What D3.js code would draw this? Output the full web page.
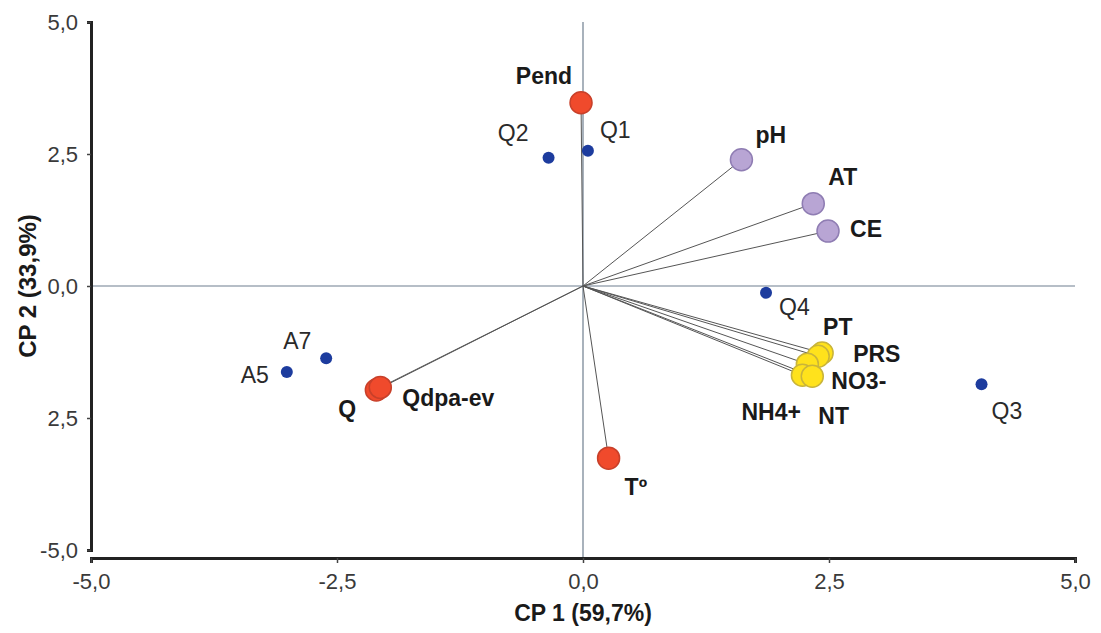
<!DOCTYPE html>
<html>
<head>
<meta charset="utf-8">
<script src="https://cdn.jsdelivr.net/npm/d3@7"></script>
<style>
  body { margin: 0; background: #fff; }
  text { font-family: "Liberation Sans", Arial, sans-serif; }
</style>
</head>
<body>
<div id="chart"></div>
<script>
// Variables (vectors from origin)
var varNames = ['Pend', 'pH', 'AT', 'CE', 'PT', 'PRS', 'NO3-', 'NH4+', 'NT', 'Q', 'Qdpa-ev', 'Tº'];
var varX = [-0.02, 1.61, 2.34, 2.49, 2.43, 2.39, 2.28, 2.23, 2.33, -2.10, -2.06, 0.26];
var varY = [3.47, 2.39, 1.56, 1.04, -1.27, -1.33, -1.48, -1.69, -1.71, -1.97, -1.92, -3.26];
var varGroup = ['red', 'purple', 'purple', 'purple', 'yellow', 'yellow', 'yellow', 'yellow', 'yellow', 'red', 'red', 'red'];

// Sites
var siteNames = ['Q1', 'Q2', 'Q4', 'Q3', 'A7', 'A5'];
var siteX = [0.05, -0.35, 1.86, 4.05, -2.61, -3.01];
var siteY = [2.56, 2.43, -0.13, -1.86, -1.37, -1.63];

var xTicks = [-5, -2.5, 0, 2.5, 5];
var xTickLabels = ['-5,0', '-2,5', '0,0', '2,5', '5,0'];
var yTicks = [5, 2.5, 0, -2.5, -5];
var yTickLabels = ['5,0', '2,5', '0,0', '2,5', '-5,0'];

var xTitle = 'CP 1 (59,7%)';
var yTitle = 'CP 2 (33,9%)';

// label placement (pixel offsets from the mark, anchor)
var varLabelPos = {
    'Pend': [-9, -19, 'end'], 'pH': [14, -17, 'start'], 'AT': [15, -19, 'start'],
    'CE': [22, 6, 'start'], 'PT': [1, -18, 'start'], 'PRS': [35, 6, 'start'],
    'NO3-': [24, 25, 'start'], 'NH4+': [-61, 45, 'start'], 'NT': [6, 48, 'start'],
    'Q': [-38, 27, 'start'], 'Qdpa-ev': [22, 19, 'start'], 'Tº': [16, 37, 'start']
};
var siteLabelPos = {
    'Q1': [12, -13, 'start'], 'Q2': [-20, -17, 'end'], 'Q4': [13, 22, 'start'],
    'Q3': [10, 35, 'start'], 'A7': [-43, -9, 'start'], 'A5': [-18, 11, 'end']
};

var fill = { red: '#f04a2c', purple: '#b8a5d4', yellow: '#ffe21c' };
var stroke = { red: '#c8402a', purple: '#8f7db3', yellow: '#c9b43a' };

var width = 1101, height = 633;
var svg = d3.select('#chart').append('svg')
    .attr('width', width)
    .attr('height', height);

var x = d3.scaleLinear().domain([-5, 5]).range([91, 1075]);
var y = d3.scaleLinear().domain([-5, 5]).range([550, 22]);
var axisY = 558;

// zero lines
svg.append('line')
    .attr('x1', x(-5)).attr('x2', x(5))
    .attr('y1', y(0)).attr('y2', y(0))
    .attr('stroke', '#6f7f8f').attr('stroke-width', 1.2);
svg.append('line')
    .attr('x1', x(0)).attr('x2', x(0))
    .attr('y1', y(5)).attr('y2', axisY)
    .attr('stroke', '#6f7f8f').attr('stroke-width', 1.2);

// axes
var xAxis = svg.append('g')
    .attr('transform', `translate(0, ${axisY})`)
    .call(d3.axisBottom(x).tickValues(xTicks).tickSize(5).tickFormat((d, i) => xTickLabels[i]));
var yAxis = svg.append('g')
    .attr('transform', `translate(${x(-5)}, 0)`)
    .call(d3.axisLeft(y).tickValues(yTicks).tickSize(4).tickFormat((d, i) => yTickLabels[i]));

[xAxis, yAxis].forEach(a => {
    a.select('.domain').attr('stroke', '#222').attr('stroke-width', 3);
    a.selectAll('.tick line').attr('stroke', '#444').attr('stroke-width', 1.5);
    a.selectAll('.tick text')
        .attr('fill', '#3a3a3a')
        .style('font-size', '22px')
        .style('font-family', '"Liberation Sans", Arial, sans-serif');
});
xAxis.selectAll('.tick text').attr('y', 15);
yAxis.selectAll('.tick text').attr('x', -13);

// axis titles
svg.append('text')
    .attr('x', x(0)).attr('y', 621)
    .attr('text-anchor', 'middle')
    .style('font-size', '23px').style('font-weight', 'bold')
    .attr('fill', '#1a1a1a')
    .text(xTitle);
svg.append('text')
    .attr('transform', `translate(36, ${y(0)}) rotate(-90)`)
    .attr('text-anchor', 'middle')
    .style('font-size', '24px').style('font-weight', 'bold')
    .attr('fill', '#1a1a1a')
    .text(yTitle);

var vars = varNames.map((n, i) => ({ name: n, x: varX[i], y: varY[i], group: varGroup[i] }));
var sites = siteNames.map((n, i) => ({ name: n, x: siteX[i], y: siteY[i] }));

// vectors
svg.append('g').selectAll('line')
    .data(vars).enter().append('line')
    .attr('x1', x(0)).attr('y1', y(0))
    .attr('x2', d => x(d.x)).attr('y2', d => y(d.y))
    .attr('stroke', '#555').attr('stroke-width', 1);

// site dots
svg.append('g').selectAll('circle')
    .data(sites).enter().append('circle')
    .attr('cx', d => x(d.x)).attr('cy', d => y(d.y))
    .attr('r', 6)
    .attr('fill', '#1d3c9e');

// variable circles
svg.append('g').selectAll('circle')
    .data(vars).enter().append('circle')
    .attr('cx', d => x(d.x)).attr('cy', d => y(d.y))
    .attr('r', 11)
    .attr('fill', d => fill[d.group])
    .attr('stroke', d => stroke[d.group])
    .attr('stroke-width', 1.5);

// labels
svg.append('g').selectAll('text')
    .data(vars).enter().append('text')
    .attr('x', d => x(d.x) + varLabelPos[d.name][0])
    .attr('y', d => y(d.y) + varLabelPos[d.name][1])
    .attr('text-anchor', d => varLabelPos[d.name][2])
    .style('font-size', '23px').style('font-weight', 'bold')
    .attr('fill', '#1a1a1a')
    .text(d => d.name);

svg.append('g').selectAll('text')
    .data(sites).enter().append('text')
    .attr('x', d => x(d.x) + siteLabelPos[d.name][0])
    .attr('y', d => y(d.y) + siteLabelPos[d.name][1])
    .attr('text-anchor', d => siteLabelPos[d.name][2])
    .style('font-size', '23px')
    .attr('fill', '#2a2a2a')
    .text(d => d.name);
</script>
</body>
</html>
